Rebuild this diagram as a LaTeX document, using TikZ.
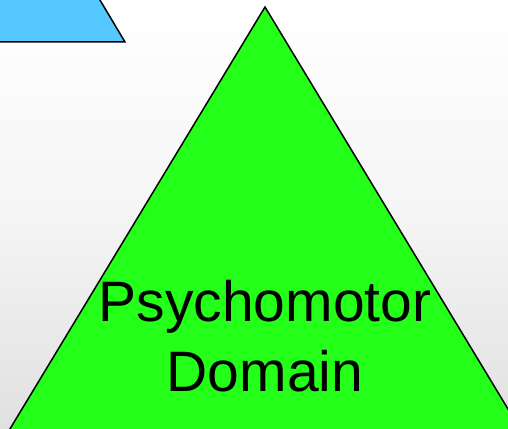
\documentclass[tikz,border=0pt]{standalone}
\usepackage{fontspec}
\setmainfont{Liberation Sans}
\definecolor{trigreen}{RGB}{36,255,26}
\definecolor{trapblue}{RGB}{85,200,255}
\tikzset{
  shapeline/.style={draw=black, line width=1.5pt, line join=miter},
  labeltext/.style={font=\fontsize{57}{70}\selectfont, align=center, inner sep=0pt, text=black}
}
\begin{document}
\begin{tikzpicture}[x=1pt, y=-1pt]
\useasboundingbox (0,0) rectangle (508,428);
\clip (0,0) rectangle (508,428);
\shade[top color=white, bottom color=black!12, middle color=white!96!black] (0,0) rectangle (508,428);
% blue trapezoid (cut off at top-left)
\fill[trapblue] (-20,-10) -- (94,-10) -- (125,42) -- (-20,42) -- cycle;
\draw[shapeline] (94,-10) -- (125,42) -- (-20,42);
% green triangle
\coordinate (apex) at (265,7);
\coordinate (bl) at (-33,500);
\coordinate (br) at (563,500);
\filldraw[shapeline, fill=trigreen] (apex) -- (br) -- (bl) -- cycle;
\node[labeltext, anchor=base] (lbl) at (265,391) {Psychomotor\\Domain};
\end{tikzpicture}
\end{document}
